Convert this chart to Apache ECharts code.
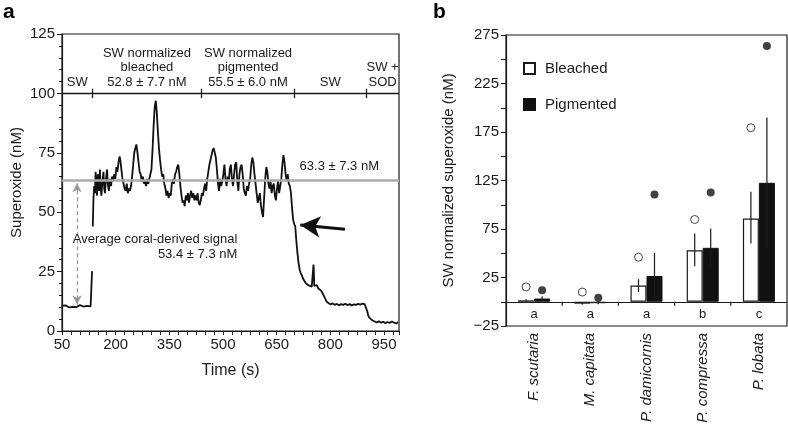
<!DOCTYPE html>
<html><head><meta charset="utf-8">
<script src="https://cdn.jsdelivr.net/npm/echarts@6/dist/echarts.min.js"></script>
<style>html,body{margin:0;padding:0;background:#fff}#c{width:788px;height:440px}</style>
</head><body><div id="c"></div>
<script>
// ---- Panel a: superoxide time trace [time (s), superoxide (nM)] ----
const trace = [
 [50,10.6],[55,10.1],[60,10.8],[65,10.3],[70,9.9],[75,10.5],[80,10.2],[85,10.7],[90,10.0],[95,10.4],
 [100,10.9],[105,10.1],[110,10.3],[115,9.8],[120,10.6],[125,10.2],[130,10.4],[133,10.3],[134,25.2],[135,null],
 [136,44],[137,50],[138,56],[140,61],[142,58],[144,67],[146,60],[148,57],[150,66],[152,62],[154,59],[156,68],[158,61],[160,57],
 [163,63],[166,67],[168,60],[170,58],[173,64],[176,68],[178,62],[181,59],[184,64],[187,61],[190,65],[193,63],[196,66],[199,64],
 [202,69],[205,67],[208,71],[211,73.5],[213,72],[216,68],[219,64],[222,62],[225,60],[228,59],[231,62],[234,58],[237,60],[240,59],
 [243,61],[246,65],[249,70],[252,75],[255,77],[258,78.5],[261,75],[264,71],[267,67],[270,66],[273,63],[276,65],[279,62],[282,63],
 [285,61],[288,64],[291,62],[294,64],[297,66],[300,68],[303,76],[306,86],[309,94],[312,97],[315,92],[318,84],[321,77],[324,72],
 [327,68],[330,65],[333,66],[336,62],[339,60],[342,57],[345,59],[348,56],[351,58],[354,57],[357,62],[360,64],[363,62],[366,66],
 [369,67],[372,69],[375,70],[378,66],[381,61],[384,57],[387,54],[390,55],[393,52.5],[396,57],[399,55],[402,58],[405,54],[408,57],
 [411,59],[414,56],[417,58],[420,55],[423,57],[426,55],[429,58],[432,54],[435,53],[438,55],[441,58],[444,57],[447,60],[450,62],
 [453,59],[456,64],[459,67],[462,70],[465,72],[468,74],[471,76],[474,77],[477,75],[480,73],[483,68],[486,62],[489,59],[492,64],
 [495,61],[498,63],[501,66],[504,70],[507,64],[510,61],[513,65],[516,63],[519,68],[522,70],[525,64],[528,61],[531,66],[534,70],
 [537,71],[540,63],[543,59],[546,66],[549,69],[552,70],[555,66],[558,60],[561,58],[564,57],[567,61],[570,59],[573,62],[576,64],
 [579,70],[582,73],[585,71],[588,66],[591,62],[594,58],[597,54],[600,56],[603,58],[606,53],[609,50],[612,48],[615,56],[618,64],
 [621,69],[624,67],[627,62],[630,60],[633,63],[636,58],[639,61],[642,62],[645,57],[648,55],[651,60],[654,63],[657,58],[660,61],
 [663,64],[666,70],[669,74],[672,71],[675,66],[678,63],[681,66],[684,62],[687,61],[690,58],[693,52],[696,47],[699,45],[702,44],
 [705,38],[708,33],[711,29],[714,26],[717,24.5],[720,23.5],[724,22],[728,21.5],[732,20],[736,20.5],[740,19.2],[744,19.5],[748,18.6],
 [751,19],[752,26],[753,28],[754,25],[755,19],[758,18.8],[762,19.3],[766,18],[770,17.6],[774,17],[778,16],[782,14.8],[786,13.5],
 [790,12.3],[794,11.6],[800,11.2],[806,11.6],[812,11.0],[818,11.4],[824,10.8],[830,11.3],[836,11.0],[842,11.5],[848,10.9],[854,11.3],
 [860,10.8],[866,11.2],[872,11.0],[878,11.4],[884,11.1],[890,11.5],[896,11.3],[900,10.5],[903,8.4],[906,6.5],[909,5.6],[913,4.9],
 [918,4.4],[924,4.0],[930,3.6],[936,4.1],[942,3.5],[948,3.9],[954,3.3],[960,3.8],[966,3.4],[972,4.0],[978,3.5],[984,3.2],[990,3.8]
];
const timeMin = 50, timeMax = 992;
const xLabelTicks = [50, 200, 350, 500, 650, 800, 950];
const phaseBounds = [135, 440, 700, 900];
const phaseSpans = [[50,135],[135,440],[440,700],[700,900],[900,992]];
const phaseLabels = ['SW','SW normalized\nbleached\n52.8 \u00b1 7.7 nM','SW normalized\npigmented\n55.5 \u00b1 6.0 nM','SW','SW +\nSOD'];
const bandLevel = 100;
const refLevel = 63.3;
const refLabel = '63.3 \u00b1 7.3 nM';
const refLabelPos = [825, 69.2];
const coralLabel = 'Average coral-derived signal\n53.4 \u00b1 7.3 nM';
const coralLabelPos = [540, 35.5];
const dashedArrow = [[92, 62.2], [92, 11.2]];
const blackArrow = [[841, 42.8], [716, 44.6]];

// ---- Panel b: SW normalized superoxide by species ----
const species = ['F. scutaria','M. capitata','P. damicornis','P. compressa','P. lobata'];
const groupLetters = ['a','a','a','b','c'];
const bleached = [1.5, -2, 16.7, 53.1, 85.8];
const pigmented = [3.3, -1.5, 26.6, 55.6, 122.6];
const bleachedErr = [[0.5,2.5],[-3,-1],[10,23.2],[36.6,70.4],[60,113.3]];
const pigmentedErr = [[1,5.7],[-2.5,0.5],[3,50.4],[36,75.5],[55,190]];
const bleachedOutlier = [15.3, 10, 45.9, 84.8, 179.4];
const pigmentedOutlier = [11.9, 4, 110.6, 112.7, 263.7];

const FONT = 'Liberation Sans';
const INK = '#1a1a1a';
const chart = echarts.init(document.getElementById('c'), null, {renderer: 'canvas'});

function errRender(offset) {
  return function (params, api) {
    const i = api.value(0);
    const p1 = api.coord([i, api.value(1)]);
    const p2 = api.coord([i, api.value(2)]);
    const x = p1[0] + offset;
    return {type: 'line', shape: {x1: x, y1: p1[1], x2: x, y2: p2[1]},
            style: {stroke: INK, lineWidth: 1.2}};
  };
}

function letterRender(params, api) {
  const i = api.value(0);
  const p = api.coord([i, 0]);
  const band = api.size([1, 0])[0];
  const children = [{
    type: 'text', x: p[0], y: p[1] + 6,
    style: {text: groupLetters[i], font: '13px "Liberation Sans"', fill: INK, align: 'center', verticalAlign: 'top'}
  }];
  if (i < groupLetters.length - 1) {
    children.push({type: 'line', shape: {x1: p[0] + band / 2, y1: p[1], x2: p[0] + band / 2, y2: p[1] + 4},
                   style: {stroke: INK, lineWidth: 1.2}});
  }
  return {type: 'group', children: children};
}

const option = {
  animation: false,
  textStyle: {fontFamily: FONT, color: INK},
  graphic: [
    {type: 'text', left: 3, top: 2, style: {text: 'a', font: 'bold 21px "Liberation Sans"', fill: '#000'}},
    {type: 'text', left: 433, top: 2, style: {text: 'b', font: 'bold 21px "Liberation Sans"', fill: '#000'}}
  ],
  grid: [
    {left: 62, top: 34, width: 337, height: 297, show: true, borderColor: INK, borderWidth: 1.2, backgroundColor: 'transparent'},
    {left: 506, top: 35, width: 281, height: 291, show: true, borderColor: INK, borderWidth: 1.2, backgroundColor: 'transparent'}
  ],
  legend: {
    left: 518, top: 56, orient: 'vertical', itemWidth: 11, itemHeight: 11, itemGap: 21,
    selectedMode: false,
    textStyle: {fontSize: 15, color: INK, fontFamily: FONT, padding: [0,0,0,5]},
    data: [{name: 'Bleached', icon: 'rect'}, {name: 'Pigmented', icon: 'rect'}]
  },
  xAxis: [
    {type: 'value', gridIndex: 0, min: timeMin, max: timeMax, interval: 25,
     axisLine: {show: true, onZero: false, lineStyle: {color: INK, width: 1.2}},
     axisTick: {show: true, length: 4, lineStyle: {color: INK}},
     axisLabel: {fontSize: 15, color: INK, margin: 6,
       formatter: v => xLabelTicks.indexOf(v) >= 0 ? String(v) : ''},
     splitLine: {show: false},
     name: 'Time (s)', nameLocation: 'middle', nameGap: 32,
     nameTextStyle: {fontSize: 16, color: INK}},
    {type: 'category', gridIndex: 1, data: species, position: 'bottom',
     axisLine: {show: false, onZero: false}, axisTick: {show: false},
     axisLabel: {rotate: 90, fontStyle: 'italic', fontSize: 15, color: INK, margin: 7, interval: 0},
     splitLine: {show: false}}
  ],
  yAxis: [
    {type: 'value', gridIndex: 0, min: 0, max: 125, interval: 25,
     axisLine: {show: true, lineStyle: {color: INK, width: 1.2}},
     axisTick: {show: true, length: 5, lineStyle: {color: INK}},
     minorTick: {show: true, splitNumber: 5, length: 3, lineStyle: {color: INK}},
     axisLabel: {fontSize: 15, color: INK, margin: 7},
     splitLine: {show: false},
     name: 'Superoxide (nM)', nameLocation: 'middle', nameGap: 38,
     nameTextStyle: {fontSize: 15, color: INK}},
    {type: 'value', gridIndex: 1, min: -25, max: 275, interval: 25,
     axisLine: {show: true, onZero: false, lineStyle: {color: INK, width: 1.2}},
     axisTick: {show: true, length: 5, lineStyle: {color: INK}},
     axisLabel: {fontSize: 15, color: INK, margin: 7,
       formatter: v => ((v + 25) % 50 === 0 ? (v < 0 ? '\u2212' + (-v) : String(v)) : '')},
     splitLine: {show: false},
     name: 'SW normalized superoxide (nM)', nameLocation: 'middle', nameGap: 50,
     nameTextStyle: {fontSize: 15, color: INK}}
  ],
  series: [
    {name: 'trace', type: 'line', xAxisIndex: 0, yAxisIndex: 0, data: trace,
     showSymbol: false, connectNulls: false, z: 3,
     lineStyle: {color: '#111', width: 1.8}},
    {name: 'ref', type: 'line', xAxisIndex: 0, yAxisIndex: 0, data: [], z: 5,
     markLine: {silent: true, symbol: 'none', label: {show: false},
       lineStyle: {color: '#ababab', width: 2.5, type: 'solid'},
       data: [{yAxis: refLevel}]}},
    {name: 'band', type: 'line', xAxisIndex: 0, yAxisIndex: 0, data: [], z: 4,
     markLine: {silent: true, symbol: 'none', label: {show: false},
       lineStyle: {color: INK, width: 1.3, type: 'solid'},
       data: [{yAxis: bandLevel}].concat(phaseBounds.map(t => [{coord: [t, bandLevel - 2]}, {coord: [t, bandLevel + 2]}]))},
     markArea: {silent: true, itemStyle: {color: 'rgba(0,0,0,0)'},
       label: {show: true, position: 'insideBottom', distance: 4, fontSize: 13, lineHeight: 14.5, color: INK, fontFamily: FONT},
       data: phaseSpans.map((s, i) => [{xAxis: s[0], yAxis: bandLevel, name: phaseLabels[i]}, {xAxis: s[1], yAxis: 125}])}},
    {name: 'arrows', type: 'line', xAxisIndex: 0, yAxisIndex: 0, data: [], z: 4,
     markLine: {silent: true, label: {show: false},
       data: [
         [{coord: dashedArrow[0], symbol: 'arrow', symbolSize: [7, 9], lineStyle: {color: '#999', type: [4, 3], width: 1.3}},
          {coord: dashedArrow[1], symbol: 'arrow', symbolSize: [7, 9]}],
         [{coord: blackArrow[0], symbol: 'none', lineStyle: {color: '#111', type: 'solid', width: 3}},
          {coord: blackArrow[1], symbol: 'arrow', symbolSize: [16, 20]}]
       ]}},
    {name: 'notes', type: 'line', xAxisIndex: 0, yAxisIndex: 0, data: [], z: 6,
     markPoint: {silent: true, symbol: 'circle', symbolSize: 0,
       data: [
         {coord: refLabelPos, label: {show: true, position: 'inside', formatter: refLabel, fontSize: 13, color: INK}},
         {coord: coralLabelPos, label: {show: true, position: 'left', distance: 0, formatter: coralLabel, fontSize: 13, lineHeight: 15, color: INK, align: 'right'}}
       ]}},

    {name: 'Bleached', type: 'bar', xAxisIndex: 1, yAxisIndex: 1, data: bleached,
     barWidth: 16, barGap: '0%', z: 2,
     itemStyle: {color: '#fff', borderColor: INK, borderWidth: 1.2},
     markLine: {silent: true, symbol: 'none', label: {show: false},
       lineStyle: {color: INK, width: 1.2, type: 'solid'}, data: [{yAxis: 0}]}},
    {name: 'Pigmented', type: 'bar', xAxisIndex: 1, yAxisIndex: 1, data: pigmented,
     barWidth: 16, barGap: '0%', z: 2,
     itemStyle: {color: '#111', borderColor: '#111', borderWidth: 1}},
    {name: 'errB', type: 'custom', xAxisIndex: 1, yAxisIndex: 1, z: 4,
     renderItem: errRender(-8), encode: {x: 0, y: [1, 2]},
     data: bleachedErr.map((e, i) => [i, e[0], e[1]])},
    {name: 'errP', type: 'custom', xAxisIndex: 1, yAxisIndex: 1, z: 4,
     renderItem: errRender(8), encode: {x: 0, y: [1, 2]},
     data: pigmentedErr.map((e, i) => [i, e[0], e[1]])},
    {name: 'letters', type: 'custom', xAxisIndex: 1, yAxisIndex: 1, z: 4, silent: true,
     renderItem: letterRender, encode: {x: 0, y: 1},
     data: groupLetters.map((l, i) => [i, 0])},
    {name: 'outB', type: 'scatter', xAxisIndex: 1, yAxisIndex: 1, z: 5,
     symbol: 'circle', symbolSize: 8, symbolOffset: [-8, 0],
     itemStyle: {color: '#fff', borderColor: INK, borderWidth: 1},
     data: bleachedOutlier.map((v, i) => [i, v])},
    {name: 'outP', type: 'scatter', xAxisIndex: 1, yAxisIndex: 1, z: 5,
     symbol: 'circle', symbolSize: 8, symbolOffset: [8, 0],
     itemStyle: {color: '#111'},
     data: pigmentedOutlier.map((v, i) => [i, v])}
  ]
};
chart.setOption(option);
</script>
</body></html>
